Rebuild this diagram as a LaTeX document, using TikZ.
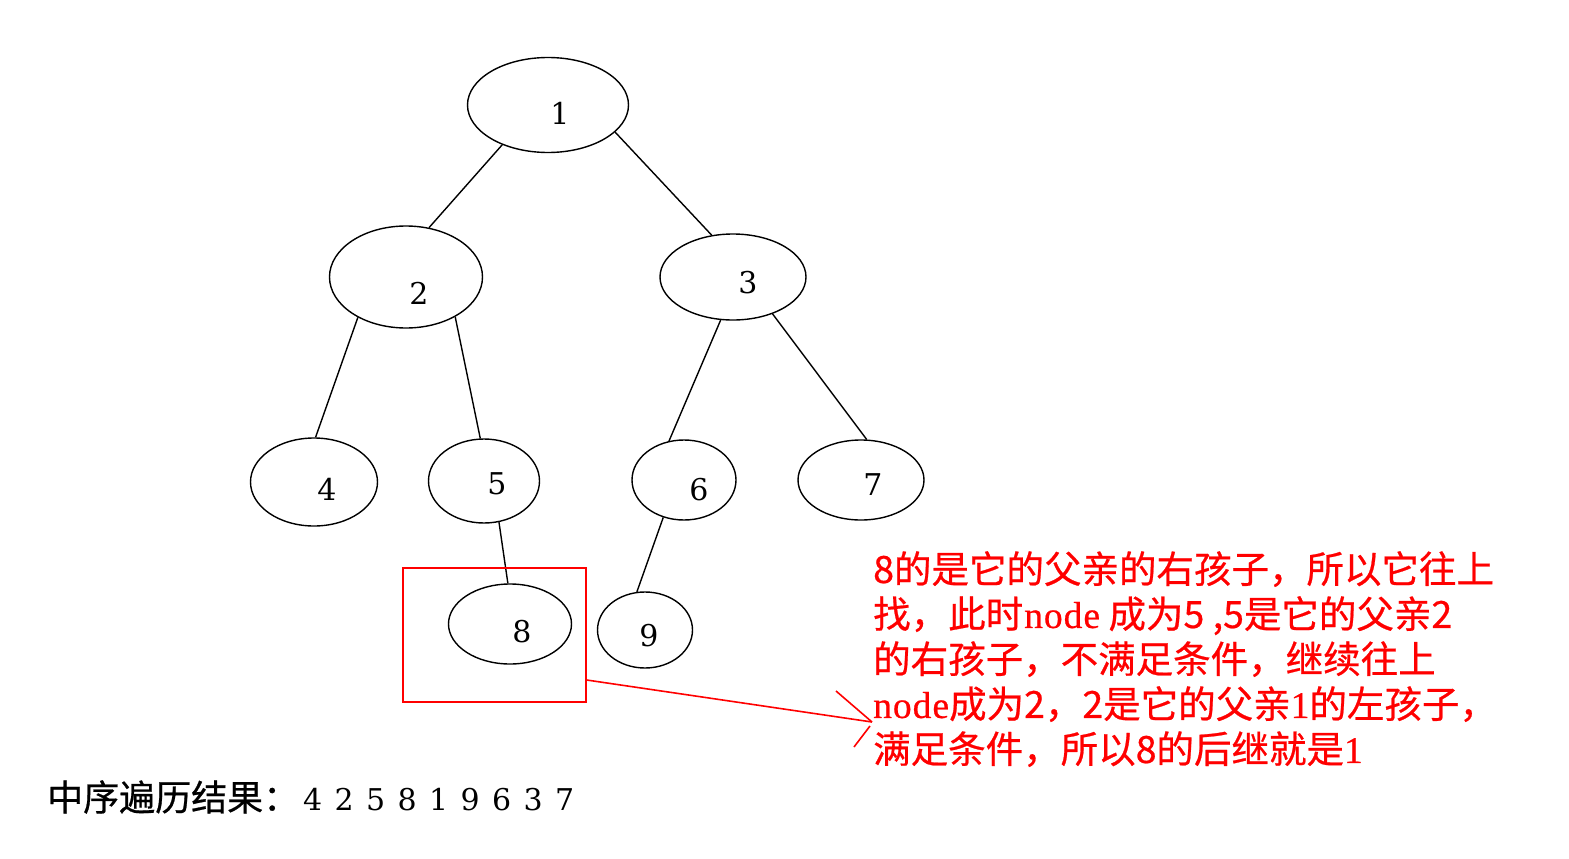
\documentclass[tikz,border=0pt]{standalone}
\usepackage{fontspec}
\setmainfont{Liberation Serif}
\newfontfamily\cjk{Noto Sans CJK SC}[FakeBold=0.6]
\newfontfamily\numfont{DejaVu Serif}
\newfontfamily\latinbold{Liberation Serif}[FakeBold=0.6]
\usetikzlibrary{shapes.geometric}
\begin{document}
\begin{tikzpicture}[x=1pt,y=-1pt,
  tn/.style={draw=black, line width=1.4pt, ellipse, inner sep=0pt},
  lab/.style={font=\numfont\fontsize{30}{36}\selectfont, inner sep=0pt},
  edge/.style={draw=black, line width=1.4pt},
  redline/.style={draw=red, line width=1.6pt}
]
\useasboundingbox (0,0) rectangle (1569,859);
\fill[white] (0,0) rectangle (1569,859);

% tree nodes
\node[tn, minimum width=161pt, minimum height=95pt] (n1) at (548,105) {};
\node[tn, minimum width=153pt, minimum height=102pt] (n2) at (406,277) {};
\node[tn, minimum width=146pt, minimum height=86pt] (n3) at (733,277) {};
\node[tn, minimum width=127pt, minimum height=88pt] (n4) at (314,482) {};
\node[tn, minimum width=111pt, minimum height=84pt] (n5) at (484,481) {};
\node[tn, minimum width=104pt, minimum height=80pt] (n6) at (684,480) {};
\node[tn, minimum width=126pt, minimum height=80pt] (n7) at (861,480) {};
\node[tn, minimum width=123pt, minimum height=80pt] (n8) at (510,624) {};
\node[tn, minimum width=95pt, minimum height=76pt] (n9) at (645,630) {};

% labels
\node[lab] (l1) at (560,113) {1};
\node[lab] (l2) at (419,293) {2};
\node[lab] (l3) at (748,283) {3};
\node[lab] (l4) at (327,489) {4};
\node[lab] (l5) at (497,484) {5};
\node[lab] (l6) at (699,490) {6};
\node[lab] (l7) at (873,485) {7};
\node[lab] (l8) at (522,632) {8};
\node[lab] (l9) at (649,636) {9};

% edges
\draw[edge] (n1.221) -- (n2.65);
\draw[edge] (n1.338) -- (n3.117);
\draw[edge] (n2.220) -- (n4.88);
\draw[edge] (n2.321) -- (n5.95);
\draw[edge] (n3.254) -- (n6.111);
\draw[edge] (n3.317) -- (n7.82);
\draw[edge] (n5.290) -- (n8.93);
\draw[edge] (n6.241) -- (n9.102);

% highlight box and pointer
\node[draw=red, line width=1.6pt, minimum width=183pt, minimum height=134pt, inner sep=0pt] (box) at (494.5,635) {};
\coordinate (tip) at (872,722);
\draw[redline] (box.-26.7) -- (tip);
\draw[redline] (tip) -- ++(-36,-31);
\draw[redline] (tip) ++(-2,4) -- ++(-16,21);

% explanation text
\node[anchor=north west, inner sep=0pt, text=red, align=left,
      font=\cjk\fontsize{37.5}{45}\selectfont] (note) at (873,551)
  {8的是它的父亲的右孩子，所以它往上\\
   找，此时{\latinbold\hspace{1pt}n\hspace{1pt}o\hspace{1pt}d\hspace{1pt}e} 成为5 ,5是它的父亲2\\
   的右孩子，不满足条件，继续往上\\
   {\latinbold n\hspace{1pt}o\hspace{1pt}d\hspace{1pt}e}成为2，2是它的父亲{\latinbold 1}的左孩子，\\
   满足条件，所以8的后继就是{\latinbold 1}};

% result line
\node[anchor=west, inner sep=0pt, font=\cjk\fontsize{36}{40}\selectfont] (res) at (47,797)
  {中序遍历结果：\hspace{4pt}{\numfont\fontsize{30}{40}\selectfont 4\hspace{12.4pt}2\hspace{12.4pt}5\hspace{12.4pt}8\hspace{12.4pt}1\hspace{12.4pt}9\hspace{12.4pt}6\hspace{12.4pt}3\hspace{12.4pt}7}};
\end{tikzpicture}
\end{document}
